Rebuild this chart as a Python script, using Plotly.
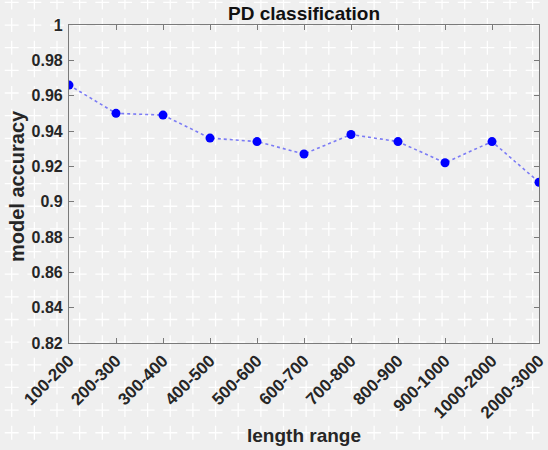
import numpy as np
import plotly.graph_objects as go

# length bins and the accuracy reached on each
length_ranges = ["100-200", "200-300", "300-400", "400-500", "500-600", "600-700",
                 "700-800", "800-900", "900-1000", "1000-2000", "2000-3000"]
accuracy = [0.966, 0.950, 0.949, 0.936, 0.934, 0.927, 0.938, 0.934, 0.922, 0.934, 0.911]

y_ticks = [0.82, 0.84, 0.86, 0.88, 0.90, 0.92, 0.94, 0.96, 0.98, 1.00]
y_tick_labels = ["0.82", "0.84", "0.86", "0.88", "0.9", "0.92", "0.94", "0.96", "0.98", "1"]

W, H = 548, 450
# plot box in pixels (left, right, top, bottom)
L, R, T, B = 69, 539, 25, 343

BG = "#efefef"
TXT = "#262626"
AX = "#7a7a7a"
GRID = "#d9d9d9"
FONT = "Liberation Sans, Arial, sans-serif"

xdom = [L / W, R / W]
ydom = [1 - B / H, 1 - T / H]
n = len(length_ranges)

fig = go.Figure()

# layer 2: white cross texture covering the whole canvas (above grid, below data)
px = 11.7 + 22.65 * np.arange(24)
py = 2.4 + 22.65 * np.arange(20)
gx, gy = np.meshgrid(px, py)
fig.add_trace(go.Scatter(
    x=gx.ravel(), y=gy.ravel(), mode="markers",
    marker=dict(symbol="cross-thin", size=10, color="white",
                line=dict(color="rgba(255,255,255,0.95)", width=1.3)),
    xaxis="x2", yaxis="y2", showlegend=False, hoverinfo="skip",
))

# layer 3: the accuracy series with its axes
fig.add_trace(go.Scatter(
    x=length_ranges, y=accuracy, mode="lines+markers",
    line=dict(color="#7b7bf5", width=1.6, dash="dot"),
    marker=dict(color="#0000ff", size=9, line=dict(width=0)),
    xaxis="x3", yaxis="y3", showlegend=False,
))

axis_common = dict(
    showline=True, linecolor=AX, linewidth=1.2, mirror="ticks",
    ticks="inside", ticklen=5, tickcolor=AX, tickwidth=1,
    showgrid=False, zeroline=False,
    automargin=False,
)

title_font = dict(family=FONT, size=19, color=TXT, weight="bold")

fig.update_layout(
    width=W, height=H,
    margin=dict(l=0, r=0, t=0, b=0),
    paper_bgcolor=BG, plot_bgcolor="rgba(0,0,0,0)",
    # layer 1: grid only
    xaxis=dict(domain=xdom, range=[0, n - 1], dtick=1, tick0=0, showgrid=True,
               gridcolor=GRID, gridwidth=1, zeroline=False, showticklabels=False,
               showline=False, ticks="", anchor="y"),
    yaxis=dict(domain=ydom, range=[0.82, 1.0], tickvals=y_ticks, showgrid=True,
               gridcolor=GRID, gridwidth=1, zeroline=False, showticklabels=False,
               showline=False, ticks="", anchor="x"),
    xaxis2=dict(domain=[0, 1], range=[0, W], visible=False, anchor="y2"),
    yaxis2=dict(domain=[0, 1], range=[H, 0], visible=False, anchor="x2"),
    xaxis3=dict(domain=xdom, type="category", range=[0, n - 1],
                tickangle=-45, anchor="y3",
                tickfont=dict(family=FONT, size=17, color=TXT, weight="bold"),
                **axis_common),
    yaxis3=dict(domain=ydom, range=[0.82, 1.0], ticklabelstandoff=2,
                tickvals=y_ticks, ticktext=y_tick_labels, anchor="x3",
                tickfont=dict(family=FONT, size=16, color=TXT, weight="bold"),
                **axis_common),
    annotations=[
        dict(text="PD classification", x=(L + R) / 2 / W, y=1 - 14 / H,
             xref="paper", yref="paper", showarrow=False,
             xanchor="center", yanchor="middle",
             font=dict(title_font, color="#111111")),
        dict(text="length range", x=(L + R) / 2 / W, y=1 - 435 / H,
             xref="paper", yref="paper", showarrow=False,
             xanchor="center", yanchor="middle", font=title_font),
        dict(text="model accuracy", x=17 / W, y=1 - 186 / H,
             xref="paper", yref="paper", showarrow=False, textangle=-90,
             xanchor="center", yanchor="middle", font=dict(title_font, size=20)),
    ],
)

fig.write_html("out.html")
